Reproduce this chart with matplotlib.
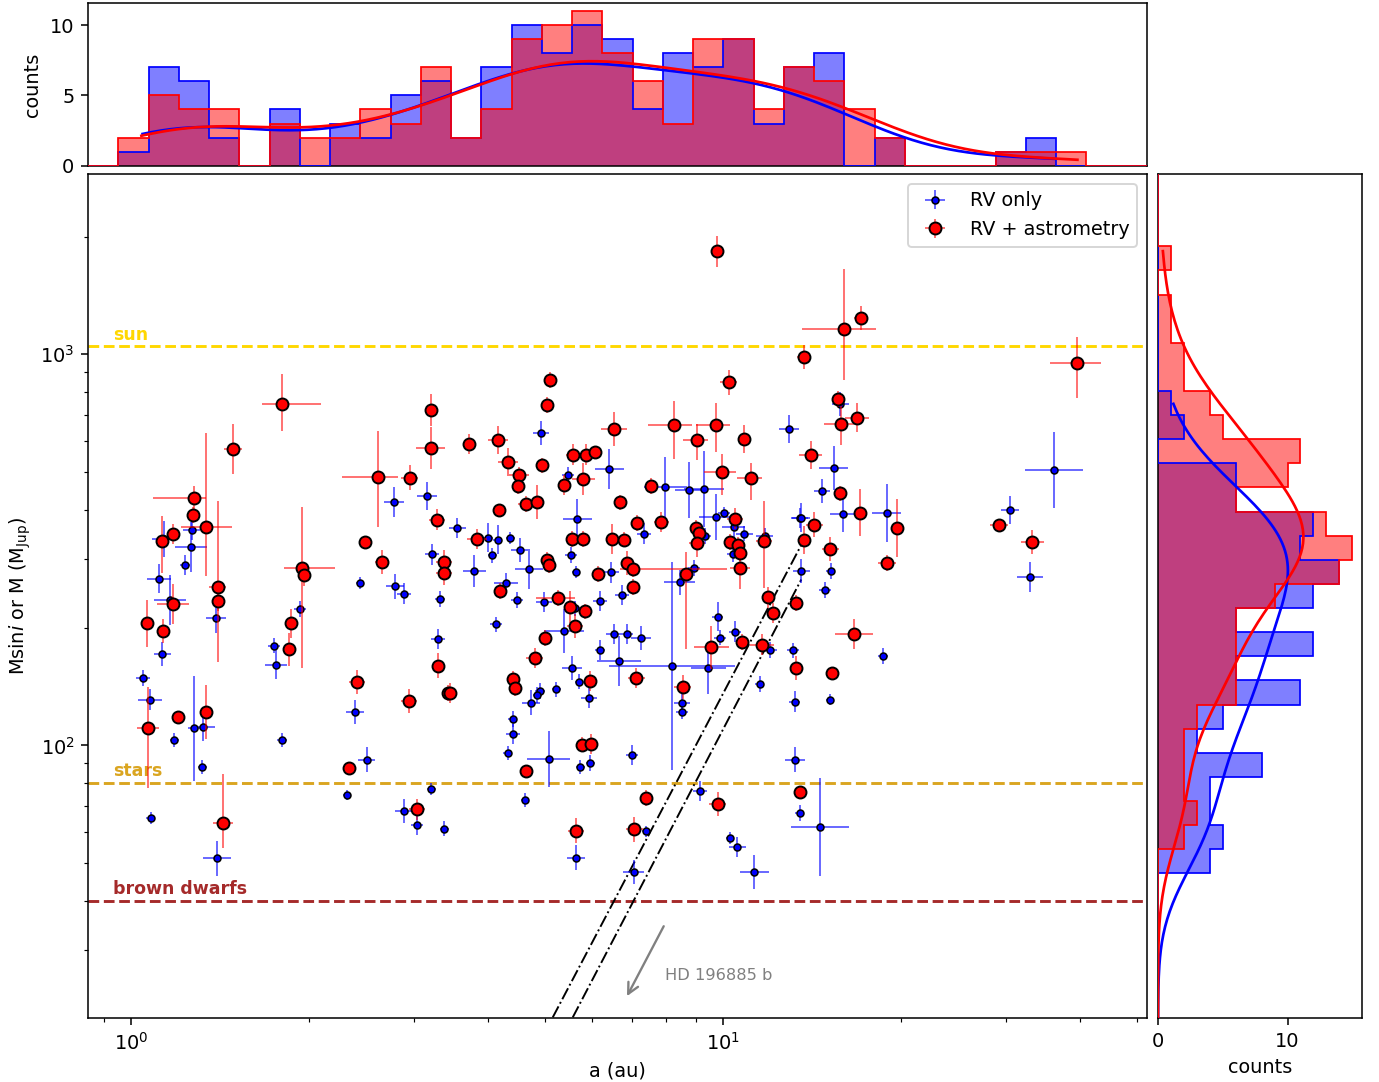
import numpy as np
import matplotlib
matplotlib.use("Agg")
import matplotlib.pyplot as plt

# ---------------- data ----------------
# RV only: semi-major axis (au), mass (M_Jup), symmetric errors in dex
rv_a = [1.045, 1.076, 1.078, 1.129, 1.114, 1.135, 1.162, 1.233, 1.260, 1.264,
        1.183, 1.277, 1.323, 1.319, 1.388, 1.395, 1.743, 1.757, 1.796, 1.927,
        2.389, 2.498, 2.317, 2.434, 2.779, 2.793, 2.885, 2.885, 3.039, 3.163,
        3.225, 3.212, 3.323, 3.294, 3.379, 3.554, 3.797, 4.005, 4.159, 4.074,
        4.368, 4.531, 4.693, 4.291, 4.479, 4.923, 5.463, 5.671, 5.540, 5.643,
        6.424, 6.196, 6.749, 6.465, 7.342, 7.989, 8.750, 9.277, 8.923, 8.437,
        9.324, 9.721, 10.04, 10.41, 10.86, 10.38, 11.75, 12.93, 13.46, 4.982,
        5.615, 5.391, 4.136, 4.904, 4.853, 4.740, 5.226, 5.555, 5.715, 5.929,
        6.196, 6.534, 6.890, 7.266, 6.671, 8.201, 8.516, 8.516, 9.443, 9.781,
        9.883, 10.47, 12.01, 11.52, 13.10, 13.20, 4.410, 4.410, 4.325, 5.074,
        5.737, 5.965, 7.018, 4.626, 5.636, 7.400, 7.055, 9.134, 10.26, 10.57,
        11.29, 13.20, 13.46, 14.88, 18.62, 15.17, 14.60, 15.77, 15.37, 14.69,
        15.96, 18.88, 13.55, 13.55, 15.19, 36.28, 30.56, 33.04, 5.0]
rv_m = [149, 131, 65.1, 171, 267, 337.5, 235, 289, 321, 355,
        103.5, 110.5, 111.6, 88, 212, 51.4, 180, 161, 103.5, 223,
        122, 92, 74.6, 260, 419, 255, 244.5, 67.9, 62.7, 435,
        308, 77.4, 237, 187, 61.3, 360, 279.5, 340, 336, 306,
        339.5, 316, 283, 260, 235.6, 628, 491, 380, 307, 277,
        510, 234, 242, 277, 348, 457, 450, 452, 284.5, 261,
        343, 383, 394, 362, 348, 308, 344, 643, 382, 233,
        224, 196, 204, 137.6, 134.7, 128.7, 139, 158, 145.7, 132.3,
        175.6, 193, 193, 188, 164, 160, 128.5, 122, 158, 213.6,
        188.7, 195.5, 175.6, 143.7, 175, 129.5, 117, 107, 95.5, 92.4,
        88, 90.3, 94.4, 72.4, 51.7, 60.3, 47.4, 76.5, 58.1, 55.1,
        47.5, 92, 67.1, 250, 169.5, 131, 61.8, 747, 513, 447,
        391, 392, 382.5, 279, 279, 505, 400, 269, 8]
rv_a_err = [0.012, 0.020, 0.008, 0.014, 0.020, 0.020, 0.027, 0.008, 0.027, 0.014,
            0.008, 0.010, 0.020, 0.008, 0.017, 0.024, 0.010, 0.019, 0.008, 0.010,
            0.015, 0.014, 0.007, 0.007, 0.017, 0.015, 0.012, 0.015, 0.010, 0.017,
            0.012, 0.008, 0.008, 0.012, 0.008, 0.014, 0.019, 0.008, 0.008, 0.008,
            0.008, 0.014, 0.024, 0.020, 0.010, 0.014, 0.010, 0.024, 0.010, 0.007,
            0.024, 0.012, 0.012, 0.014, 0.012, 0.037, 0.024, 0.034, 0.010, 0.027,
            0.010, 0.029, 0.010, 0.019, 0.014, 0.010, 0.014, 0.017, 0.014, 0.014,
            0.010, 0.034, 0.010, 0.008, 0.008, 0.015, 0.008, 0.017, 0.008, 0.014,
            0.008, 0.014, 0.010, 0.017, 0.037, 0.106, 0.014, 0.010, 0.030, 0.010,
            0.010, 0.010, 0.012, 0.008, 0.010, 0.010, 0.008, 0.012, 0.008, 0.036,
            0.008, 0.008, 0.010, 0.007, 0.015, 0.007, 0.017, 0.012, 0.007, 0.014,
            0.024, 0.017, 0.007, 0.010, 0.008, 0.007, 0.049, 0.014, 0.025, 0.014,
            0.022, 0.024, 0.015, 0.014, 0.008, 0.049, 0.015, 0.022, 0.01]
rv_m_err = [0.020, 0.026, 0.015, 0.031, 0.038, 0.046, 0.064, 0.026, 0.064, 0.026,
            0.018, 0.135, 0.036, 0.018, 0.038, 0.046, 0.020, 0.038, 0.018, 0.020,
            0.031, 0.031, 0.013, 0.015, 0.038, 0.031, 0.026, 0.031, 0.026, 0.036,
            0.026, 0.015, 0.020, 0.026, 0.020, 0.026, 0.041, 0.038, 0.038, 0.020,
            0.015, 0.031, 0.051, 0.026, 0.020, 0.031, 0.020, 0.049, 0.020, 0.015,
            0.051, 0.026, 0.026, 0.026, 0.026, 0.077, 0.072, 0.097, 0.020, 0.031,
            0.020, 0.059, 0.015, 0.031, 0.020, 0.020, 0.020, 0.036, 0.026, 0.026,
            0.020, 0.056, 0.020, 0.020, 0.020, 0.031, 0.020, 0.031, 0.020, 0.026,
            0.026, 0.026, 0.026, 0.031, 0.064, 0.266, 0.026, 0.020, 0.066, 0.038,
            0.020, 0.026, 0.020, 0.020, 0.020, 0.026, 0.020, 0.026, 0.018, 0.072,
            0.018, 0.020, 0.026, 0.018, 0.031, 0.015, 0.031, 0.026, 0.015, 0.026,
            0.043, 0.031, 0.020, 0.020, 0.020, 0.015, 0.125, 0.031, 0.056, 0.031,
            0.046, 0.074, 0.036, 0.031, 0.020, 0.097, 0.036, 0.038, 0.02]

# RV + astrometry: semi-major axis (au), mass (M_Jup), asymmetric errors in dex
ast_a = [1.798, 1.486, 3.212, 3.205, 2.608, 2.953, 3.285, 1.277, 1.269, 1.338,
         1.174, 1.129, 1.399, 1.399, 1.940, 1.955, 2.485, 2.649, 3.376, 3.376,
         1.177, 1.065, 1.130, 1.068, 1.197, 1.336, 1.428, 1.846, 1.861, 2.408,
         2.329, 2.945, 3.298, 3.428, 3.039, 9.743, 5.105, 5.046, 10.21, 3.724,
         4.169, 4.325, 4.514, 4.502, 4.937, 5.379, 5.570, 5.866, 6.083, 5.805,
         6.542, 8.265, 9.721, 9.027, 10.84, 9.949, 11.14, 7.546, 6.696, 4.645,
         4.853, 4.176, 3.842, 5.035, 5.080, 5.555, 5.791, 6.499, 6.809, 7.153,
         7.866, 6.874, 7.037, 6.155, 7.037, 4.193, 5.267, 8.667, 8.991, 9.097,
         9.027, 10.47, 10.26, 10.60, 10.67, 10.69, 11.72, 11.90, 5.512, 5.837,
         5.615, 4.995, 4.804, 4.410, 4.455, 3.455, 5.959, 7.134, 8.536, 9.555,
         10.77, 11.64, 12.16, 13.29, 13.29, 5.768, 5.989, 4.645, 5.643, 7.080,
         7.418, 9.781, 13.46, 15.97, 17.07, 13.69, 39.67, 15.66, 15.83, 16.85,
         14.05, 15.77, 17.05, 19.63, 14.25, 13.69, 15.17, 18.93, 29.28, 33.30,
         16.66, 15.27, 1.04]
ast_m = [747, 574, 721, 575, 485, 484, 378, 430, 389, 361,
         347, 333, 254, 234, 285, 272, 332, 295, 294, 276,
         230, 205, 196, 110.5, 118, 122, 63.5, 176, 205, 145,
         87.4, 130, 160, 136, 68.6, 1835, 859, 743, 847, 590,
         604, 530, 491, 460, 520, 464, 554, 554, 561, 481,
         643, 659, 661, 602, 606, 499, 483, 461, 418, 415,
         419, 400, 337.5, 297.5, 289, 337, 337, 337, 336, 371,
         373, 293, 283, 274, 254, 248, 238, 275, 360, 350,
         330, 380, 331, 325, 311, 284, 334, 239, 226, 220,
         202, 188, 167.5, 148, 140, 136, 146, 149, 141, 178,
         183.5, 181, 218, 231, 158, 100.5, 101, 86, 60.6, 61,
         73.3, 70.7, 75.9, 1162, 1240, 983, 951, 769, 665, 689,
         553, 441, 394, 360, 367, 335, 318, 293, 367, 331,
         192.5, 153.6, 8]
ast_a_err_lo = [0.034, 0.015, 0.008, 0.025, 0.061, 0.014, 0.014, 0.069, 0.008, 0.043,
                0.008, 0.008, 0.014, 0.010, 0.030, 0.008, 0.007, 0.012, 0.014, 0.014,
                0.027, 0.008, 0.008, 0.019, 0.008, 0.008, 0.017, 0.008, 0.010, 0.014,
                0.007, 0.014, 0.008, 0.010, 0.014, 0.008, 0.010, 0.008, 0.015, 0.010,
                0.017, 0.017, 0.017, 0.008, 0.010, 0.010, 0.012, 0.010, 0.008, 0.020,
                0.022, 0.044, 0.034, 0.024, 0.010, 0.030, 0.024, 0.010, 0.010, 0.014,
                0.010, 0.007, 0.017, 0.008, 0.008, 0.010, 0.010, 0.008, 0.008, 0.008,
                0.012, 0.008, 0.022, 0.010, 0.008, 0.010, 0.037, 0.008, 0.008, 0.008,
                0.014, 0.014, 0.010, 0.010, 0.008, 0.017, 0.014, 0.010, 0.010, 0.010,
                0.014, 0.010, 0.014, 0.010, 0.010, 0.010, 0.010, 0.014, 0.015, 0.030,
                0.010, 0.020, 0.010, 0.010, 0.010, 0.010, 0.010, 0.007, 0.014, 0.014,
                0.010, 0.015, 0.007, 0.070, 0.012, 0.012, 0.047, 0.010, 0.029, 0.020,
                0.019, 0.010, 0.008, 0.008, 0.014, 0.008, 0.014, 0.015, 0.015, 0.020,
                0.032, 0.007, 0.01]
ast_a_err_hi = [0.066, 0.015, 0.008, 0.025, 0.034, 0.014, 0.014, 0.020, 0.008, 0.043,
                0.008, 0.008, 0.014, 0.010, 0.056, 0.008, 0.007, 0.012, 0.014, 0.014,
                0.027, 0.008, 0.008, 0.019, 0.008, 0.008, 0.017, 0.008, 0.010, 0.014,
                0.007, 0.014, 0.008, 0.010, 0.014, 0.008, 0.010, 0.008, 0.015, 0.010,
                0.017, 0.017, 0.017, 0.008, 0.010, 0.010, 0.012, 0.010, 0.008, 0.020,
                0.022, 0.030, 0.024, 0.019, 0.010, 0.024, 0.019, 0.010, 0.010, 0.014,
                0.010, 0.007, 0.017, 0.008, 0.008, 0.010, 0.010, 0.008, 0.008, 0.008,
                0.012, 0.008, 0.159, 0.010, 0.008, 0.010, 0.028, 0.008, 0.008, 0.008,
                0.014, 0.014, 0.010, 0.010, 0.008, 0.017, 0.014, 0.010, 0.010, 0.010,
                0.014, 0.010, 0.014, 0.010, 0.010, 0.010, 0.010, 0.014, 0.015, 0.030,
                0.010, 0.020, 0.010, 0.010, 0.010, 0.010, 0.010, 0.007, 0.014, 0.014,
                0.010, 0.015, 0.007, 0.055, 0.012, 0.012, 0.039, 0.010, 0.029, 0.020,
                0.019, 0.010, 0.008, 0.008, 0.014, 0.008, 0.014, 0.015, 0.015, 0.020,
                0.032, 0.007, 0.01]
ast_m_err_lo = [0.069, 0.064, 0.041, 0.054, 0.128, 0.031, 0.026, 0.031, 0.020, 0.125,
                0.026, 0.082, 0.192, 0.026, 0.256, 0.026, 0.015, 0.031, 0.031, 0.031,
                0.051, 0.061, 0.031, 0.151, 0.015, 0.069, 0.064, 0.043, 0.036, 0.031,
                0.013, 0.031, 0.031, 0.020, 0.026, 0.040, 0.020, 0.020, 0.033, 0.026,
                0.036, 0.036, 0.020, 0.020, 0.020, 0.026, 0.026, 0.026, 0.013, 0.041,
                0.043, 0.087, 0.069, 0.049, 0.036, 0.059, 0.056, 0.020, 0.020, 0.020,
                0.043, 0.013, 0.026, 0.020, 0.020, 0.020, 0.020, 0.038, 0.020, 0.020,
                0.026, 0.031, 0.020, 0.020, 0.020, 0.020, 0.020, 0.192, 0.020, 0.020,
                0.038, 0.026, 0.020, 0.020, 0.020, 0.054, 0.120, 0.026, 0.041, 0.020,
                0.031, 0.020, 0.026, 0.020, 0.020, 0.026, 0.026, 0.026, 0.031, 0.056,
                0.020, 0.026, 0.026, 0.020, 0.031, 0.020, 0.026, 0.015, 0.031, 0.031,
                0.020, 0.031, 0.015, 0.130, 0.031, 0.031, 0.089, 0.020, 0.054, 0.038,
                0.036, 0.020, 0.061, 0.074, 0.031, 0.036, 0.031, 0.020, 0.015, 0.031,
                0.038, 0.015, 0.02]
ast_m_err_hi = [0.077, 0.064, 0.041, 0.054, 0.117, 0.031, 0.026, 0.031, 0.020, 0.240,
                0.026, 0.064, 0.220, 0.026, 0.156, 0.026, 0.015, 0.031, 0.031, 0.031,
                0.051, 0.061, 0.031, 0.107, 0.015, 0.069, 0.125, 0.043, 0.036, 0.031,
                0.013, 0.031, 0.031, 0.020, 0.026, 0.040, 0.020, 0.020, 0.033, 0.026,
                0.036, 0.036, 0.020, 0.020, 0.020, 0.026, 0.026, 0.026, 0.013, 0.041,
                0.043, 0.061, 0.054, 0.041, 0.036, 0.047, 0.039, 0.020, 0.020, 0.020,
                0.043, 0.013, 0.026, 0.020, 0.020, 0.020, 0.020, 0.038, 0.020, 0.020,
                0.026, 0.031, 0.020, 0.020, 0.020, 0.020, 0.020, 0.056, 0.020, 0.020,
                0.038, 0.026, 0.020, 0.020, 0.020, 0.054, 0.100, 0.026, 0.041, 0.020,
                0.031, 0.020, 0.026, 0.020, 0.020, 0.026, 0.026, 0.026, 0.031, 0.056,
                0.020, 0.026, 0.026, 0.020, 0.031, 0.020, 0.026, 0.015, 0.031, 0.031,
                0.020, 0.031, 0.015, 0.153, 0.031, 0.031, 0.066, 0.020, 0.054, 0.038,
                0.036, 0.020, 0.061, 0.074, 0.031, 0.036, 0.031, 0.020, 0.015, 0.031,
                0.038, 0.015, 0.02]

# histogram counts (35 log-spaced bins spanning the axis limits)
rv_counts_a = [0, 1, 7, 6, 2, 0, 4, 0, 3, 2, 5, 6, 2, 7, 10, 8, 10, 9, 4, 8,
               7, 9, 3, 7, 8, 0, 2, 0, 0, 0, 1, 2, 0, 0, 0]
ast_counts_a = [0, 2, 5, 4, 4, 0, 3, 2, 2, 4, 3, 7, 2, 4, 9, 10, 11, 8, 6, 3,
                9, 9, 4, 7, 6, 4, 2, 0, 0, 0, 1, 1, 1, 0, 0]
# mass histograms, listed from low mass to high mass
rv_counts_m = [0, 0, 0, 0, 0, 0, 4, 5, 4, 4, 8, 3, 5, 11, 6, 12, 6, 12, 14, 11,
               12, 6, 6, 0, 2, 1, 0, 0, 0, 0, 0, 0, 0, 0, 0]
ast_counts_m = [0, 0, 0, 0, 0, 0, 0, 2, 3, 2, 2, 2, 3, 6, 6, 6, 6, 9, 14, 15,
                13, 6, 10, 11, 5, 4, 2, 2, 1, 1, 0, 1, 0, 0, 0]

# reference levels (M_Jup)
level_names = ["sun", "stars", "brown dwarfs"]
level_values = [1047, 80, 40]
level_colors = ["#FFD700", "#DAA520", "#A52A2A"]

# dash-dot limit lines (a in au, M in M_Jup)
limit1_a = [5.153, 13.65]
limit1_m = [20.18, 332.6]
limit2_a = [5.57, 13.55]
limit2_m = [20.18, 265.6]

XLIM = (0.845, 52.0)
YLIM = (20.1, 2890.0)
NBINS = 35

# ---------------- figure ----------------
DPI = 139
W, H = 1379, 1082
fig = plt.figure(figsize=(W / DPI, H / DPI), dpi=DPI)


def rect(l, t, r, b):
    return [l / W, 1 - b / H, (r - l) / W, (b - t) / H]


ax = fig.add_axes(rect(88, 174, 1147, 1018))
axt = fig.add_axes(rect(88, 3.3, 1147, 165.7), sharex=ax)
axr = fig.add_axes(rect(1158, 174, 1362, 1018), sharey=ax)

ax.set_xscale("log")
ax.set_yscale("log")
ax.set_xlim(*XLIM)
ax.set_ylim(*YLIM)


def dex_err(v, lo, hi):
    v = np.asarray(v, float)
    lo = np.asarray(lo, float)
    hi = np.asarray(hi, float)
    return np.vstack([v - v * 10 ** (-lo), v * 10 ** hi - v])


# reference levels
for name, val, col in zip(level_names, level_values, level_colors):
    ax.axhline(val, color=col, ls="--", lw=1.5, zorder=1)
    ax.annotate(name, xy=(0.0236, val), xycoords=("axes fraction", "data"),
                xytext=(0, 1.5), textcoords="offset points", color=col,
                fontweight="bold", fontsize=9, va="bottom", ha="left")

# limit lines
ax.plot(limit1_a, limit1_m, color="black", ls="-.", lw=1.0, zorder=2)
ax.plot(limit2_a, limit2_m, color="black", ls="-.", lw=1.0, zorder=2)

rv_a_arr = np.array(rv_a)
rv_m_arr = np.array(rv_m)
ast_a_arr = np.array(ast_a)
ast_m_arr = np.array(ast_m)

ax.errorbar(rv_a_arr, rv_m_arr,
            xerr=dex_err(rv_a_arr, rv_a_err, rv_a_err),
            yerr=dex_err(rv_m_arr, rv_m_err, rv_m_err),
            fmt="o", ms=3.6, mfc="blue", mec="black", mew=0.8,
            ecolor=(0, 0, 1, 0.75), elinewidth=0.8, capsize=0,
            label="RV only", zorder=3)
ax.errorbar(ast_a_arr, ast_m_arr,
            xerr=dex_err(ast_a_arr, ast_a_err_lo, ast_a_err_hi),
            yerr=dex_err(ast_m_arr, ast_m_err_lo, ast_m_err_hi),
            fmt="o", ms=6.2, mfc="red", mec="black", mew=1.0,
            ecolor=(1, 0, 0, 0.7), elinewidth=0.8, capsize=0,
            label="RV + astrometry", zorder=4)

# annotation
ax.annotate("", xy=(6.83, 22.4), xytext=(7.99, 35.2),
            arrowprops=dict(arrowstyle="->", color="gray", lw=1.2,
                            mutation_scale=14))
ax.text(7.98, 25.8, "HD 196885 b", color="gray", fontsize=8.4,
        ha="left", va="center")

ax.set_xlabel("a (au)", fontsize=10)
ax.set_ylabel(r"Msin$i$ or M (M$_{\rm Jup}$)", fontsize=10)
ax.legend(loc="upper right", fontsize=10)

# ---------------- histograms ----------------
x_edges = np.logspace(np.log10(XLIM[0]), np.log10(XLIM[1]), NBINS + 1)
y_edges = np.logspace(np.log10(YLIM[0]), np.log10(YLIM[1]), NBINS + 1)
bw_x = np.log10(XLIM[1] / XLIM[0]) / NBINS
bw_y = np.log10(YLIM[1] / YLIM[0]) / NBINS


def kde(values):
    lv = np.log10(np.asarray(values, float))
    n = len(lv)
    bw = n ** (-1 / 5) * np.std(lv, ddof=1)
    grid = np.linspace(lv.min(), lv.max(), 200)
    dens = np.exp(-0.5 * ((grid[:, None] - lv[None, :]) / bw) ** 2).sum(1)
    dens /= n * bw * np.sqrt(2 * np.pi)
    return grid, dens, n


for counts, col in ((rv_counts_a, "blue"), (ast_counts_a, "red")):
    axt.stairs(counts, x_edges, fill=True, color=col, alpha=0.5, lw=0)
    axt.stairs(counts, x_edges, color=col, lw=0.9, zorder=3)
for counts, col in ((rv_counts_m, "blue"), (ast_counts_m, "red")):
    axr.stairs(counts, y_edges, fill=True, color=col, alpha=0.5, lw=0,
               orientation="horizontal")
    axr.stairs(counts, y_edges, color=col, lw=0.9, orientation="horizontal",
               zorder=3)

for vals, col in ((rv_a, "blue"), (ast_a, "red")):
    g, d, n = kde(vals)
    axt.plot(10 ** g, d * n * bw_x, color=col, lw=1.4, zorder=4)
for vals, col in ((rv_m, "blue"), (ast_m, "red")):
    g, d, n = kde(vals)
    axr.plot(d * n * bw_y, 10 ** g, color=col, lw=1.4, zorder=4)

axt.set_ylim(0, 11.55)
axt.set_yticks([0, 5, 10])
axt.set_ylabel("counts", fontsize=10)
axt.tick_params(axis="x", which="both", bottom=False, labelbottom=False)

axr.set_xlim(0, 15.75)
axr.set_xticks([0, 10])
axr.set_xlabel("counts", fontsize=10)
axr.tick_params(axis="y", which="both", left=False, labelleft=False)

fig.savefig("out.png", dpi=DPI)
